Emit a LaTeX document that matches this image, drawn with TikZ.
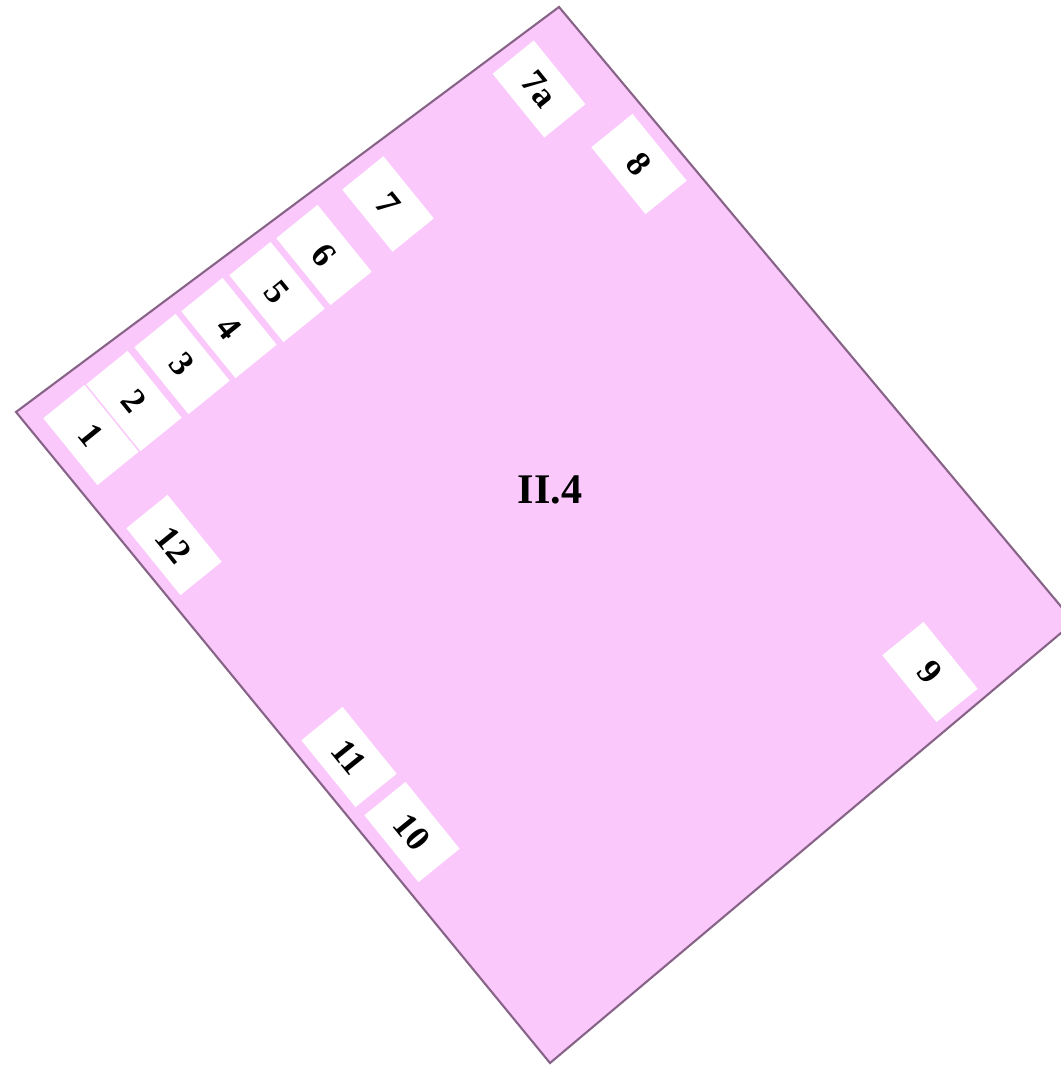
\documentclass[tikz,border=0pt]{standalone}
\usepackage{fontspec}
\setmainfont{Liberation Serif}
\usepackage{xcolor}
\usepackage{tikz}
\usetikzlibrary{positioning,calc}

\definecolor{plotpink}{RGB}{250,200,250}
\definecolor{plotedge}{RGB}{135,100,135}

\begin{document}
\begin{tikzpicture}[
    x=0.01cm, y=-0.01cm,
    plot/.style={fill=plotpink, draw=plotedge, line width=0.6pt, line join=miter},
    lot/.style={fill=white, rotate=-51, minimum width=0.86cm, minimum height=0.53cm, inner sep=0pt, font=\fontsize{10}{12}\selectfont\bfseries},
    title/.style={font=\fontsize{12}{14}\selectfont\bfseries}
]
\useasboundingbox (0,0) rectangle (1061,1067);
\clip (0,0) rectangle (1061,1067);

% Outline of the plot (right corner runs off the page)
\coordinate (top) at (559,7);
\coordinate (right) at (1074,622);
\coordinate (bottom) at (550,1063);
\coordinate (left) at (16,412);
\draw[plot] (top) -- (right) -- (bottom) -- (left) -- cycle;

% Lots along the upper edge
\node[lot] (l1) at (91,435) {1};
\node[lot] (l2) at (134,401) {2};
\node[lot] (l3) at (182,364) {3};
\node[lot] (l4) at (229,328) {4};
\node[lot] (l5) at (277,292) {5};
\node[lot] (l6) at (324,255) {6};
\node[lot, minimum width=0.80cm] (l7) at (388,204) {7};
\node[lot, minimum width=0.82cm] (l7a) at (539,89) {7a};
\node[lot] (l8) at (639,164) {8};

% Lots along the other edges
\node[lot] (l9) at (930,672) {9};
\node[lot] (l10) at (412,832) {10};
\node[lot] (l11) at (349,757) {11};
\node[lot] (l12) at (174,545) {12};

% Name of the plot
\node[title] (name) at (550,490) {II.4};

\end{tikzpicture}
\end{document}
